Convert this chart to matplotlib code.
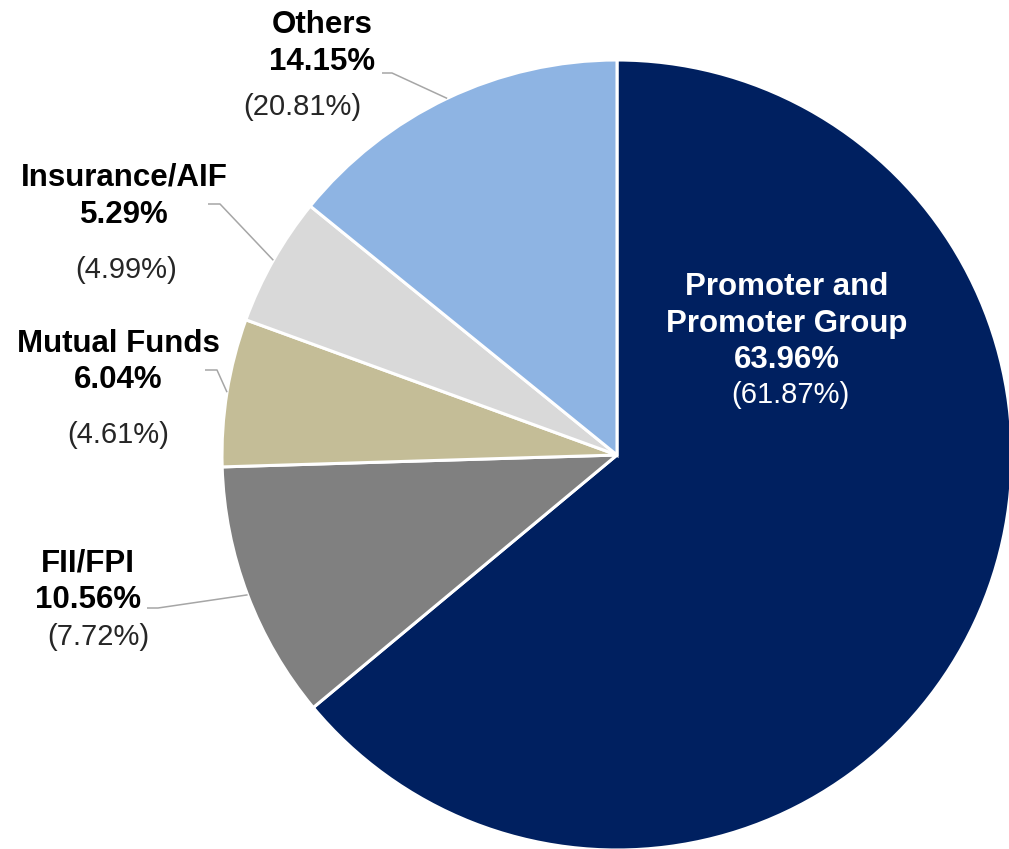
import numpy as np
import matplotlib.pyplot as plt

plt.rcParams['font.family'] = ['Liberation Sans', 'DejaVu Sans']

# shareholding pattern, current (previous in brackets)
labels = ['Promoter and\nPromoter Group', 'FII/FPI', 'Mutual Funds', 'Insurance/AIF', 'Others']
shares = [63.96, 10.56, 6.04, 5.29, 14.15]
prev_shares = [61.87, 7.72, 4.61, 4.99, 20.81]
colors = ['#002060', '#808080', '#C4BD97', '#D9D9D9', '#8EB4E3']

W, H = 1009, 849
CX, CY, R = 617, 455, 395

# label layout in pixel coords (x centre, baselines of name / value / previous, x of previous)
label_pos = {
    'Promoter and\nPromoter Group': dict(x=787, names=[295, 332], val=368, prev=403, px=790),
    'FII/FPI': dict(x=88, names=[572], val=608, prev=645, px=98),
    'Mutual Funds': dict(x=118, names=[352], val=388, prev=443, px=118),
    'Insurance/AIF': dict(x=124, names=[185], val=223, prev=278, px=126),
    'Others': dict(x=322, names=[33], val=70, prev=115, px=302),
}
# leader lines: (start x, elbow x, y) in pixels
leaders = {
    'FII/FPI': (147, 158, 608),
    'Mutual Funds': (205, 217, 370),
    'Insurance/AIF': (208, 220, 204),
    'Others': (382, 392, 73),
}

fig = plt.figure(figsize=(W / 100, H / 100), dpi=100)
ax = fig.add_axes([0, 0, 1, 1])

wedges, _ = ax.pie(shares, colors=colors, startangle=90, counterclock=False,
                   radius=R, center=(CX, H - CY),
                   wedgeprops=dict(edgecolor='white', linewidth=2.2))
ax.set_xlim(0, W)
ax.set_ylim(0, H)
ax.set_aspect('equal')
ax.axis('off')


def fy(y):
    return H - y


for lab, share, prev, w in zip(labels, shares, prev_shares, wedges):
    p = label_pos[lab]
    inside = lab.startswith('Promoter')
    c_main = 'white' if inside else 'black'
    c_prev = 'white' if inside else '#262626'
    for line, yb in zip(lab.split('\n'), p['names']):
        ax.text(p['x'], fy(yb), line, ha='center', va='baseline',
                fontsize=22.5, fontweight='bold', color=c_main)
    ax.text(p['x'], fy(p['val']), '{:.2f}%'.format(share), ha='center', va='baseline',
            fontsize=22.5, fontweight='bold', color=c_main)
    ax.text(p['px'], fy(p['prev']), '({:.2f}%)'.format(prev), ha='center', va='baseline',
            fontsize=21, color=c_prev)

    if lab in leaders:
        x0, x1, y = leaders[lab]
        mid = np.deg2rad((w.theta1 + w.theta2) / 2)
        ex = CX + R * np.cos(mid)
        ey = (H - CY) + R * np.sin(mid)
        ax.plot([x0, x1, ex], [fy(y), fy(y), ey], color='#A6A6A6', lw=1.1,
                solid_capstyle='butt')

fig.savefig('out.png', dpi=100)
